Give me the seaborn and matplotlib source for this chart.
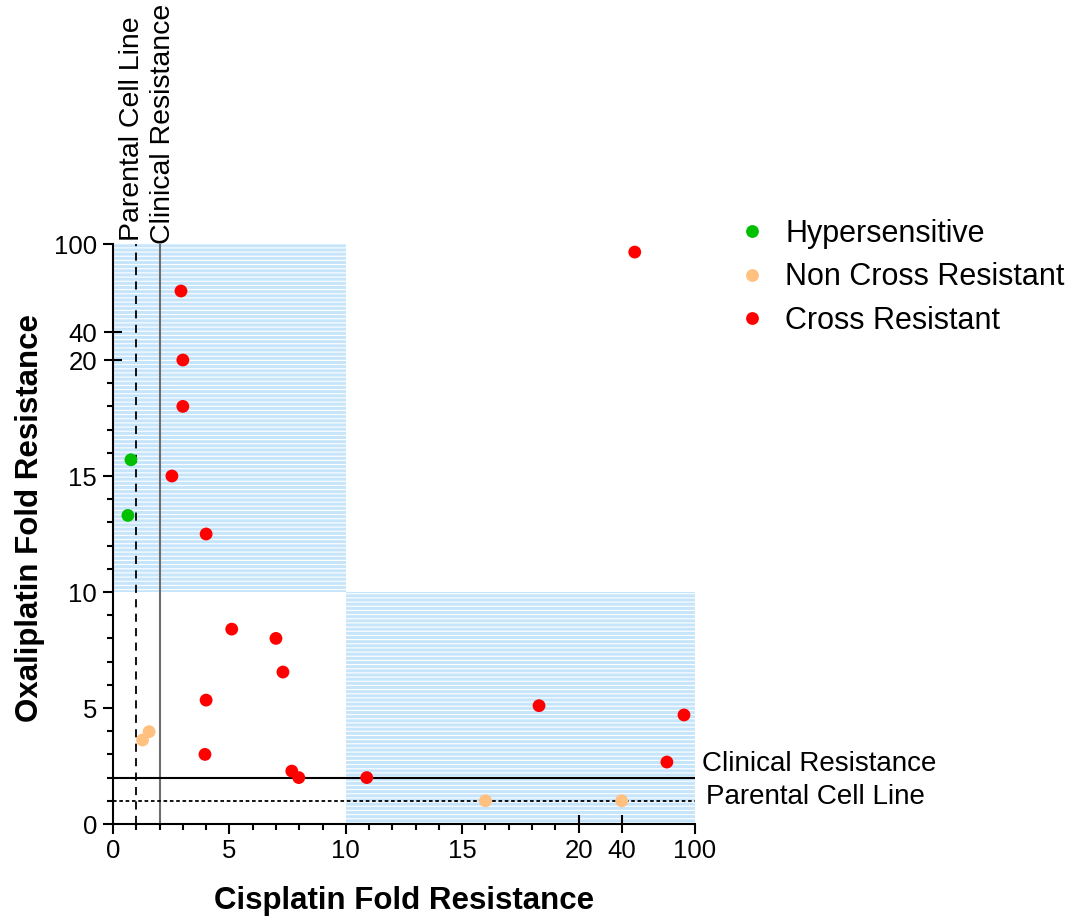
import numpy as np
import pandas as pd
import matplotlib
matplotlib.use("Agg")
import matplotlib.pyplot as plt
import seaborn as sns

# ---------------- data ----------------
cisplatin = [0.77, 0.64,
             1.27, 1.55, 16.0, 40.0,
             50.7, 2.92, 3.0, 3.0, 2.53, 4.0, 5.1, 7.0, 7.3, 4.0, 3.95, 7.68, 7.98, 10.9, 18.3, 91.0, 77.0]
oxaliplatin = [15.7, 13.3,
               3.62, 3.98, 1.0, 1.0,
               94.5, 68.0, 20.0, 18.0, 15.0, 12.5, 8.4, 8.0, 6.55, 5.34, 3.0, 2.28, 2.0, 2.0, 5.1, 4.7, 2.67]
group = (["Hypersensitive"] * 2 + ["Non Cross Resistant"] * 4 + ["Cross Resistant"] * 17)
categories = ["Hypersensitive", "Non Cross Resistant", "Cross Resistant"]
colors = ["#00c000", "#ffc080", "#ff0000"]

tick_values = [0, 5, 10, 15, 20, 40, 100]
tick_labels = ["0", "5", "10", "15", "20", "40", "100"]
minor_values = [v for v in range(1, 20) if v % 5 != 0]

parental_line = 1
clinical_line = 2
shade_limit = 10
axis_max = 100

df = pd.DataFrame({"cis": cisplatin, "oxa": oxaliplatin, "group": group})

# --------------- style ----------------
sns.set_style("ticks")
plt.rcParams["font.family"] = ["Liberation Sans", "DejaVu Sans"]
plt.rcParams["hatch.color"] = "white"
plt.rcParams["hatch.linewidth"] = 0.8
for k in ["text.color", "axes.labelcolor", "xtick.color", "ytick.color", "axes.edgecolor"]:
    plt.rcParams[k] = "black"

fig = plt.figure(figsize=(10.72, 9.17), dpi=100)
ax = fig.add_axes([113 / 1072, 1 - 824 / 917, 582 / 1072, 580 / 917])

# segmented (broken) axes: 0-20 linear, 20-40 and 40-100 compressed
xb, xt = [0, 20, 40, 100], [0, 20, 21.85, 25]
yb, yt = [0, 20, 40, 100], [0, 20, 21.2, 25]
ax.set_xscale("function", functions=(lambda v: np.interp(v, xb, xt), lambda v: np.interp(v, xt, xb)))
ax.set_yscale("function", functions=(lambda v: np.interp(v, yb, yt), lambda v: np.interp(v, yt, yb)))
ax.set_xlim(0, axis_max)
ax.set_ylim(0, axis_max)

blue = "#c6e5fb"
ax.fill_between([0, shade_limit], shade_limit, axis_max, facecolor=blue, edgecolor="white",
                hatch="----", linewidth=0, zorder=0)
ax.fill_between([shade_limit, axis_max], 0, shade_limit, facecolor=blue, edgecolor="white",
                hatch="----", linewidth=0, zorder=0)

# reference lines
ax.axvline(parental_line, color="black", lw=1.3, linestyle=(0, (4.5, 3.5)), zorder=1)
ax.axvline(clinical_line, color="#6e6e6e", lw=1.5, zorder=1)
ax.axhline(clinical_line, color="black", lw=1.5, zorder=1)
ax.axhline(parental_line, color="black", lw=1.3, linestyle=(0, (2, 1.5)), zorder=1)

sns.scatterplot(data=df, x="cis", y="oxa", hue="group", hue_order=categories,
                palette=colors, s=85, linewidth=0, zorder=3, ax=ax, clip_on=False)

# line labels
fs_lbl = 20
ax.annotate("Parental Cell Line", xy=(parental_line, 1), xycoords=("data", "axes fraction"),
            xytext=(-4, 3), textcoords="offset pixels", rotation=90, ha="center", va="bottom",
            fontsize=20.5)
ax.annotate("Clinical Resistance", xy=(clinical_line, 1), xycoords=("data", "axes fraction"),
            xytext=(3, 0), textcoords="offset pixels", rotation=90, ha="center", va="bottom",
            fontsize=20.5)
ax.annotate("Clinical Resistance", xy=(1, clinical_line), xycoords=("axes fraction", "data"),
            xytext=(7, 14), textcoords="offset pixels", ha="left", va="center", fontsize=fs_lbl)
ax.annotate("Parental Cell Line", xy=(1, parental_line), xycoords=("axes fraction", "data"),
            xytext=(11, 4), textcoords="offset pixels", ha="left", va="center", fontsize=fs_lbl)

# axes / ticks
sns.despine(ax=ax)
for sp in ["left", "bottom"]:
    ax.spines[sp].set_linewidth(1.5)
ax.set_xticks(tick_values)
ax.set_xticklabels(tick_labels)
ax.set_yticks(tick_values)
ax.set_yticklabels(tick_labels)
ax.set_xticks(minor_values, minor=True)
ax.set_yticks(minor_values, minor=True)
ax.tick_params(which="major", length=7, width=1.5, labelsize=18.5, color="black")
ax.tick_params(axis="y", which="major", pad=4.5)
ax.tick_params(which="minor", length=4, width=1.5, color="black")
for t, v in zip(ax.xaxis.get_major_ticks(), tick_values):
    if v in (20, 40):
        t.tick1line.set_marker("|")
        t.tick1line.set_markersize(13)
for t, v in zip(ax.yaxis.get_major_ticks(), tick_values):
    if v in (20, 40):
        t.tick1line.set_marker("_")
        t.tick1line.set_markersize(13)

ax.set_xlabel("Cisplatin Fold Resistance", fontsize=22.5, fontweight="bold")
ax.set_ylabel("Oxaliplatin Fold Resistance", fontsize=22.5, fontweight="bold")
ax.xaxis.set_label_coords(0.5, -0.107)
ax.yaxis.set_label_coords(-0.117, 0.528)

sns.move_legend(ax, "upper left", bbox_to_anchor=(734 / 1072, 1 - 219 / 917),
                bbox_transform=fig.transFigure, frameon=False, title=None, fontsize=22,
                borderpad=0, borderaxespad=0, handletextpad=0.47, labelspacing=0.44,
                handlelength=1.2)

fig.savefig("out.png", dpi=100)
